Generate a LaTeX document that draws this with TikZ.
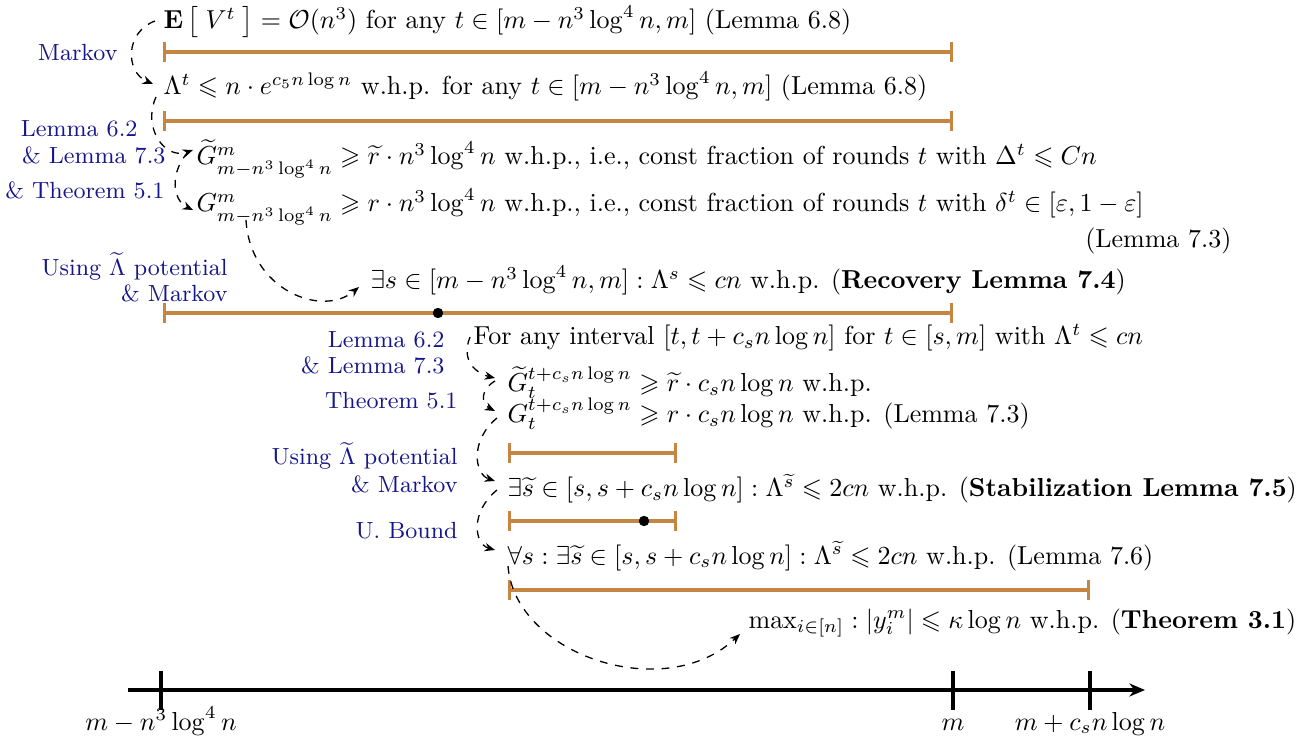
\documentclass[tikz,border=0pt]{standalone}
\usepackage{amsmath,amssymb}
\usetikzlibrary{arrows.meta}
\definecolor{barcol}{RGB}{196,134,66}
\definecolor{labblue}{RGB}{22,22,140}
\begin{document}
\begin{tikzpicture}[x=0.3846pt,y=-0.3846pt,
  txt/.style={anchor=base west,inner sep=0pt},
  lab/.style={anchor=base east,inner sep=0pt,text=labblue,font=\small},
  interval/.style={draw=barcol,line width=1.2pt,{Bar[width=7.5pt]}-{Bar[width=7.5pt]}},
  dasharrow/.style={dashed,line width=0.5pt,-{Stealth[length=4pt,width=3.2pt]}},
  pt/.style={circle,fill=black,inner sep=0pt,minimum size=4pt},
  tick/.style={line width=1.2pt}]
\useasboundingbox (0,0) rectangle (1315,747);

% main statements
\node[txt] (r1) at (163,29) {$\mathbf{E}\left[\;V^t\vphantom{\big[}\;\right] = \mathcal{O}(n^3)$ for any $t \in [m - n^3\log^4 n, m]$ (Lemma 6.8)};
\node[txt] (r2) at (163,95) {$\Lambda^t \leqslant n\cdot e^{c_5 n\log n}$ w.h.p. for any $t \in [m - n^3\log^4 n, m]$ (Lemma 6.8)};
\node[txt] (r3) at (196,165) {$\widetilde{G}^m_{m-n^3\log^4 n} \geqslant \widetilde{r}\cdot n^3\log^4 n$ w.h.p., i.e., const fraction of rounds $t$ with $\Delta^t \leqslant Cn$};
\node[txt] (r4) at (196,212) {$G^m_{m-n^3\log^4 n} \geqslant r\cdot n^3\log^4 n$ w.h.p., i.e., const fraction of rounds $t$ with $\delta^t \in [\varepsilon, 1-\varepsilon]$};
\node[anchor=base east,inner sep=0pt] (r4b) at (1232,248) {(Lemma 7.3)};
\node[txt] (r5) at (370,289) {$\exists s \in [m - n^3\log^4 n, m] : \Lambda^s \leqslant cn$ w.h.p. (\textbf{Recovery Lemma 7.4})};
\node[txt] (r6) at (473,345) {For any interval $[t, t + c_s n\log n]$ for $t \in [s, m]$ with $\Lambda^t \leqslant cn$};
\node[txt] (r7) at (507,392) {$\widetilde{G}_t^{t+c_s n\log n} \geqslant \widetilde{r}\cdot c_s n\log n$ w.h.p.};
\node[txt] (r8) at (507,423) {$G_t^{t+c_s n\log n} \geqslant r\cdot c_s n\log n$ w.h.p. (Lemma 7.3)};
\node[txt] (r9) at (507,497) {$\exists \widetilde{s} \in [s, s + c_s n\log n] : \Lambda^{\widetilde{s}} \leqslant 2cn$ w.h.p. (\textbf{Stabilization Lemma 7.5})};
\node[txt] (r10) at (507,564) {$\forall s : \exists \widetilde{s} \in [s, s + c_s n\log n] : \Lambda^{\widetilde{s}} \leqslant 2cn$ w.h.p. (Lemma 7.6)};
\node[txt] (r11) at (748,628) {$\max_{i\in[n]} : |y_i^m| \leqslant \kappa\log n$ w.h.p. (\textbf{Theorem 3.1})};

% blue justification labels
\node[lab] (l1) at (118,61) {Markov};
\node[lab] (l2) at (138,137) {Lemma 6.2};
\node[lab] (l3) at (166,164) {\& Lemma 7.3};
\node[lab] (l4) at (165,199) {\& Theorem 5.1};
\node[lab] (l5) at (228,275) {Using $\widetilde{\Lambda}$ potential};
\node[lab] (l6) at (228,302) {\& Markov};
\node[lab] (l7) at (445,347) {Lemma 6.2};
\node[lab] (l8) at (445,374) {\& Lemma 7.3};
\node[lab] (l9) at (458,408) {Theorem 5.1};
\node[lab] (l10) at (458,465) {Using $\widetilde{\Lambda}$ potential};
\node[lab] (l11) at (458,492) {\& Markov};
\node[lab] (l12) at (458,538) {U. Bound};

% intervals
\coordinate (b1a) at (163,52);  \coordinate (b1b) at (953,52);
\coordinate (b2a) at (163,121); \coordinate (b2b) at (953,121);
\coordinate (b5a) at (163,313); \coordinate (b5b) at (953,313);
\coordinate (b8a) at (508,453); \coordinate (b8b) at (677,453);
\coordinate (b9a) at (508,521); \coordinate (b9b) at (677,521);
\coordinate (b10a) at (508,590); \coordinate (b10b) at (1090,590);
\draw[interval] (b1a) -- (b1b);
\draw[interval] (b2a) -- (b2b);
\draw[interval] (b5a) -- (b5b);
\draw[interval] (b8a) -- (b8b);
\draw[interval] (b9a) -- (b9b);
\draw[interval] (b10a) -- (b10b);
\node[pt] (d5) at (438,313) {};
\node[pt] (d9) at (644,521) {};

% dashed implication arrows
\coordinate (a1s) at (155,21); \coordinate (a1e) at (153,84);
\draw[dasharrow] (a1s) .. controls (125,32) and (125,72) .. (a1e);
\coordinate (a2s) at (156,97); \coordinate (a2e) at (193,150);
\draw[dasharrow] (a2s) .. controls (142,128) and (165,160) .. (a2e);
\coordinate (a3s) at (188,152); \coordinate (a3e) at (193,210);
\draw[dasharrow] (a3s) .. controls (170,172) and (172,200) .. (a3e);
\coordinate (a4s) at (246,220); \coordinate (a4e) at (359,287);
\draw[dasharrow] (a4s) .. controls (250,290) and (322,318) .. (a4e);
\coordinate (a5s) at (470,337); \coordinate (a5e) at (495,378);
\draw[dasharrow] (a5s) .. controls (460,362) and (478,374) .. (a5e);
\coordinate (a6s) at (495,381); \coordinate (a6e) at (495,411);
\draw[dasharrow] (a6s) .. controls (480,390) and (481,404) .. (a6e);
\coordinate (a7s) at (497,418); \coordinate (a7e) at (495,481);
\draw[dasharrow] (a7s) .. controls (470,440) and (474,474) .. (a7e);
\coordinate (a8s) at (497,490); \coordinate (a8e) at (495,550);
\draw[dasharrow] (a8s) .. controls (470,512) and (474,544) .. (a8e);
\coordinate (a9s) at (508,566); \coordinate (a9e) at (740,634);
\draw[dasharrow] (a9s) .. controls (515,655) and (665,705) .. (a9e);

% time axis
\coordinate (ax0) at (128,690); \coordinate (ax1) at (1145,690);
\draw[line width=1.2pt,-{Stealth[length=6pt,width=5pt]}] (ax0) -- (ax1);
\coordinate (t1) at (161,690); \coordinate (t2) at (953,690); \coordinate (t3) at (1090,690);
\foreach \c in {t1,t2,t3} \draw[tick] ([yshift=-7.5pt]\c) -- ([yshift=7.5pt]\c);
\node[anchor=base,inner sep=0pt] (x1) at (161,730) {$m - n^3\log^4 n$};
\node[anchor=base,inner sep=0pt] (x2) at (953,730) {$m$};
\node[anchor=base,inner sep=0pt] (x3) at (1090,730) {$m + c_s n\log n$};
\end{tikzpicture}
\end{document}
